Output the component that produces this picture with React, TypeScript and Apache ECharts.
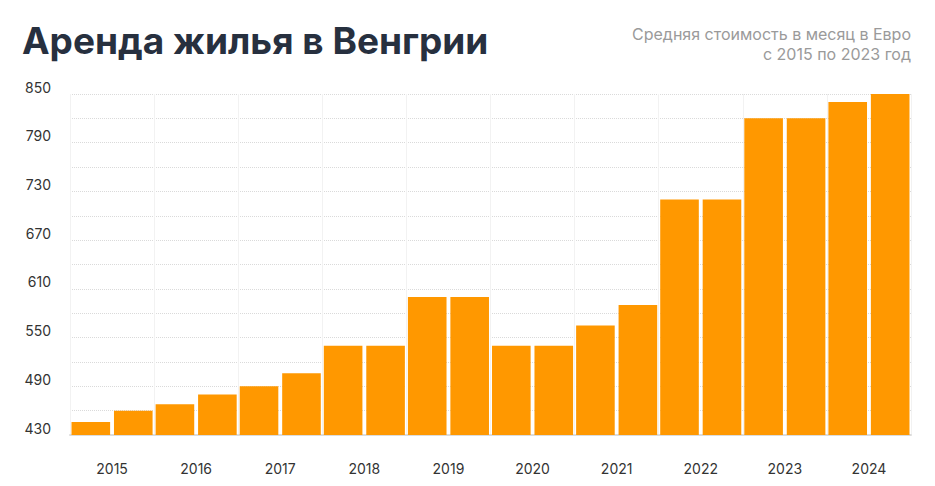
import React, { useEffect, useRef } from 'react';
import * as echarts from 'echarts';

// years on the x axis, two bars per year (first / second half)
const years = ['2015', '2016', '2017', '2018', '2019', '2020', '2021', '2022', '2023', '2024'];
const firstHalf = [446, 468, 490, 540, 600, 540, 565, 720, 820, 840];
const secondHalf = [460, 480, 506, 540, 600, 540, 590, 720, 820, 850];

const title = 'Аренда жилья в Венгрии';
const subtitleLines = ['Средняя стоимость в месяц в Евро', 'с 2015 по 2023 год'];

const FONT = 'Inter, "Noto Sans", sans-serif';
const ORANGE = '#ff9800';

const App: React.FC = () => {
    const chartRef = useRef<HTMLDivElement | null>(null);

    useEffect(() => {
        if (!chartRef.current) return;
        document.body.style.margin = '0';

        const myChart = echarts.init(chartRef.current, undefined, { renderer: 'svg' });

        const halves = years.flatMap(y => [y + '-1', y + '-2']);

        const option = {
            animation: false,
            backgroundColor: '#fff',
            textStyle: { fontFamily: FONT },
            title: {
                text: title,
                left: 17,
                top: 17,
                textStyle: {
                    fontFamily: FONT,
                    fontSize: 37,
                    fontWeight: 700,
                    color: '#27303f'
                }
            },
            graphic: subtitleLines.map((line, i) => ({
                type: 'text',
                right: 24,
                top: 26 + i * 20,
                style: {
                    text: line,
                    fontFamily: FONT,
                    fontSize: 16,
                    fill: '#9a9a9a'
                }
            })),
            grid: {
                left: 70,
                right: 24,
                top: 94,
                bottom: 51
            },
            xAxis: [
                {
                    type: 'category',
                    data: years,
                    axisTick: { show: false },
                    axisLine: { lineStyle: { color: '#dcdcdc', width: 2 } },
                    axisLabel: {
                        color: '#333',
                        fontSize: 14,
                        margin: 26,
                        fontFamily: FONT
                    },
                    splitLine: { show: false }
                },
                {
                    type: 'category',
                    data: halves,
                    position: 'bottom',
                    axisTick: { show: false },
                    axisLine: { show: false },
                    axisLabel: { show: false },
                    splitLine: { show: true, lineStyle: { color: '#f2f2f2', width: 1 } }
                }
            ],
            yAxis: {
                type: 'value',
                min: 430,
                max: 850,
                interval: 60,
                axisLine: { show: false },
                axisTick: { show: false },
                axisLabel: {
                    color: '#333',
                    fontSize: 14,
                    margin: 19,
                    fontFamily: FONT,
                    verticalAlign: 'bottom'
                },
                splitLine: { lineStyle: { color: '#dadada', type: 'dotted', width: 1 } },
                minorTick: { show: false, splitNumber: 2 },
                minorSplitLine: { show: true, lineStyle: { color: '#dadada', type: 'dotted', width: 1 } }
            },
            series: [
                {
                    name: 'H1',
                    type: 'bar',
                    data: firstHalf,
                    barGap: '10%',
                    barCategoryGap: '3.6%',
                    itemStyle: { color: ORANGE }
                },
                {
                    name: 'H2',
                    type: 'bar',
                    data: secondHalf,
                    barGap: '10%',
                    barCategoryGap: '3.6%',
                    itemStyle: { color: ORANGE }
                }
            ]
        };

        myChart.setOption(option);

        return () => {
            myChart.dispose();
        };
    }, []);

    return (
        <div
            ref={chartRef}
            style={{ width: '935px', height: '486px' }}
        />
    );
};

export default App;
